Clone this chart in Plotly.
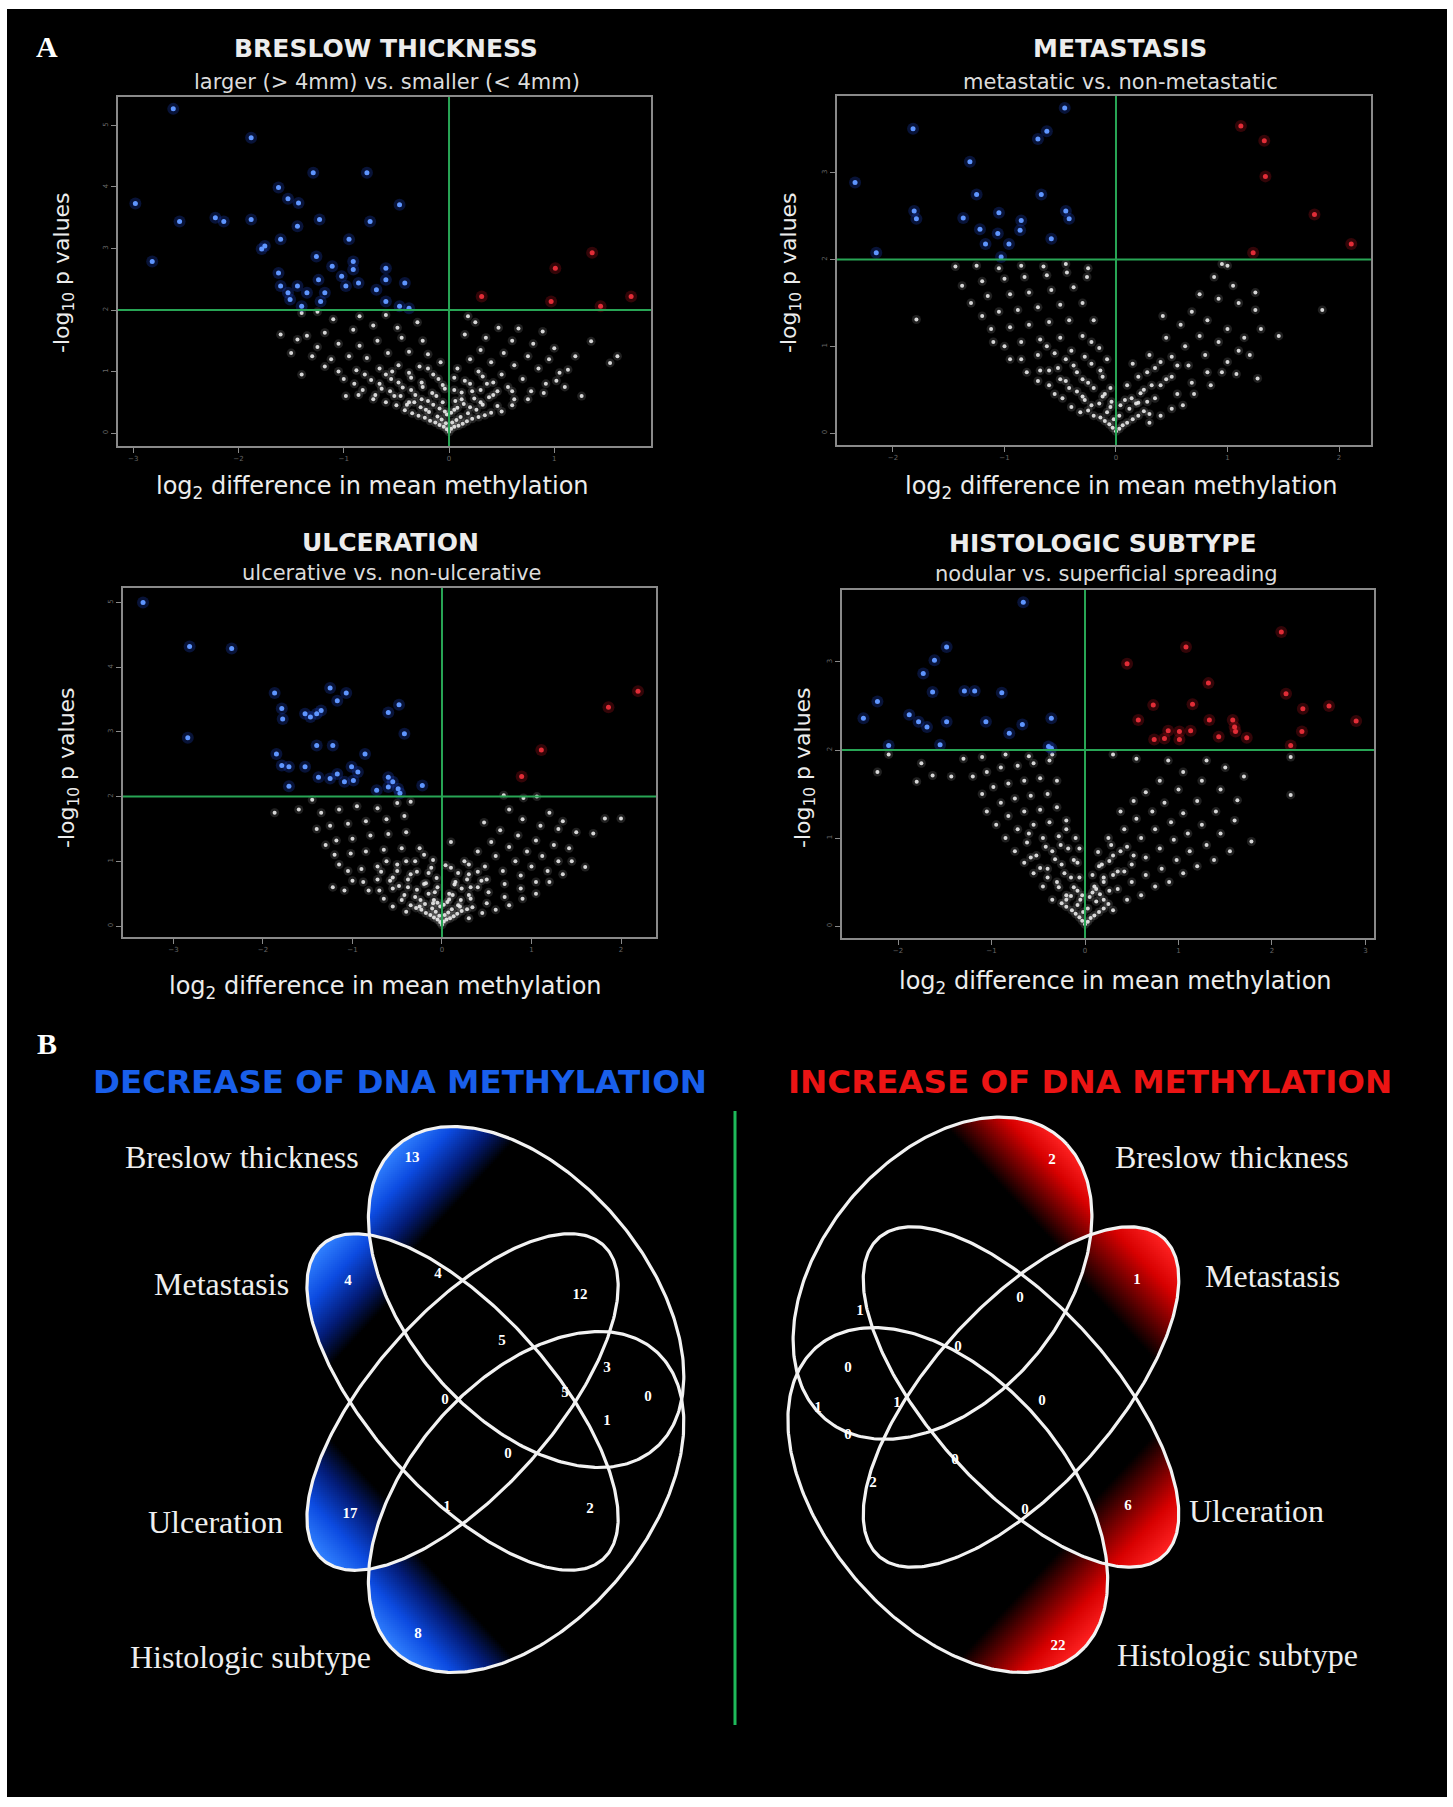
import numpy as np
import plotly.graph_objects as go

W, H = 1453, 1807

# ======================= DATA =======================
PANEL_TITLES = ["BRESLOW THICKNESS", "METASTASIS", "ULCERATION", "HISTOLOGIC SUBTYPE"]
PANEL_SUBTITLES = ["larger (> 4mm) vs. smaller (< 4mm)", "metastatic vs. non-metastatic",
                   "ulcerative vs. non-ulcerative", "nodular vs. superficial spreading"]
X_TICKS = [[-3, -2, -1, 0, 1], [-2, -1, 0, 1, 2], [-3, -2, -1, 0, 1, 2], [-2, -1, 0, 1, 2, 3]]
Y_TICKS = [[0, 1, 2, 3, 4, 5], [0, 1, 2, 3], [0, 1, 2, 3, 4, 5], [0, 1, 2, 3]]
SIG_LINE = 2.0      # -log10 p threshold
DIFF_LINE = 0.0     # log2 difference = 0

# (log2 difference, -log10 p)
breslow_hypo = [(-2.62,5.27),(-2.98,3.73),(-2.82,2.79),(-2.56,3.44),(-2.22,3.50),(-2.14,3.44),(-1.88,4.80),
    (-1.88,3.47),(-1.62,3.99),(-1.53,3.81),(-1.43,3.74),(-1.44,3.36),(-1.60,3.15),(-1.75,3.04),(-1.78,2.99),
    (-1.62,2.60),(-1.60,2.39),(-1.53,2.28),(-1.51,2.17),(-1.40,2.06),(-1.44,2.39),(-1.29,4.23),(-1.23,3.47),
    (-1.26,2.87),(-1.24,2.49),(-1.22,2.14),(-1.35,2.28),(-1.11,2.71),(-1.02,2.55),(-0.95,3.15),(-0.91,2.79),
    (-0.91,2.66),(-0.98,2.39),(-0.86,2.44),(-0.78,4.23),(-0.75,3.44),(-0.60,2.68),(-0.60,2.49),(-0.69,2.33),
    (-0.60,2.14),(-0.47,3.71),(-0.42,2.44),(-0.47,2.06),(-0.38,2.03),(-1.18,2.28)]
breslow_hyper = [(1.36,2.93),(1.01,2.68),(0.97,2.14),(0.31,2.22),(1.73,2.22),(1.44,2.06)]
breslow_ns = [(0,0.02),(-0.02,0.06),(0.02,0.07),(-0.05,0.1),(0.05,0.1),(-0.09,0.13),(0.09,0.12),(-0.03,0.16),
    (0.03,0.17),(-0.13,0.17),(0.13,0.15),(-0.07,0.22),(0.07,0.21),(-0.18,0.2),(0.17,0.19),(-0.11,0.27),
    (0.11,0.26),(-0.23,0.25),(0.22,0.23),(-0.02,0.3),(0.02,0.33),(-0.29,0.28),(0.28,0.26),(-0.19,0.34),
    (0.18,0.32),(-0.35,0.32),(0.34,0.29),(-0.09,0.4),(0.08,0.41),(-0.27,0.42),(0.26,0.38),(-0.42,0.37),
    (0.4,0.33),(-0.15,0.46),(0.14,0.47),(-0.33,0.5),
    (-0.04,0.35),(0.05,0.38),(-0.22,0.38),(0.2,0.42),(-0.4,0.46),(0.32,0.46),(-0.06,0.5),(0.06,0.52),
    (-0.26,0.55),(0.24,0.56),(-0.46,0.6),(0.38,0.58),(-0.16,0.65),(0.12,0.66),(-0.36,0.7),(0.3,0.7),
    (-0.56,0.68),(0.46,0.68),(-0.04,0.72),(-0.26,0.82),(0.2,0.8),(-0.48,0.82),(0.42,0.82),(-0.66,0.8),
    (-0.1,0.88),(-0.38,0.98),(0.05,0.9),(-0.6,0.95),(0.32,0.92),(-0.2,1.05),(-0.8,0.95),(0.6,0.68),
    (-0.72,0.55),(-0.86,0.62),(-0.54,1.0),
    (-0.5,0.45),(-0.38,0.5),(-0.2,0.52),(-0.6,0.5),(-0.52,0.6),(-0.32,0.62),(-0.12,0.6),(-0.7,0.62),
    (-0.64,0.72),(-0.44,0.74),(-0.25,0.75),(-0.06,0.78),(-0.82,0.7),(-0.9,0.8),(-0.74,0.86),(-0.55,0.88),
    (-0.36,0.9),(-0.15,0.95),(-1.0,0.88),(-1.05,1.0),(-0.88,1.02),(-0.66,1.05),(-0.48,1.1),(-0.28,1.08),
    (-0.08,1.15),(-1.18,1.08),(-1.12,1.2),(-0.95,1.25),(-0.78,1.22),(-0.58,1.3),(-0.38,1.32),(-0.2,1.28),
    (-1.3,1.25),(-1.25,1.4),(-1.05,1.45),(-0.85,1.42),(-0.68,1.5),(-0.45,1.55),(-0.25,1.5),(-1.35,1.58),
    (-1.44,1.52),(-1.18,1.63),(-0.91,1.68),(-0.72,1.75),(-0.49,1.71),(-0.3,1.8),(-1.1,1.85),(-0.85,1.9),
    (-0.6,1.92),(-1.4,1.95),(-1.25,1.97),(-1.6,1.6),(-1.5,1.3),(-1.4,0.95),(-0.98,0.6),
    (0.5,0.35),(0.46,0.44),(0.3,0.5),(0.12,0.55),(0.6,0.45),(0.62,0.55),(0.42,0.62),(0.22,0.68),(0.05,0.7),
    (0.75,0.55),(0.78,0.68),(0.56,0.75),(0.36,0.8),(0.15,0.85),(0.9,0.65),(0.92,0.8),(0.7,0.88),(0.5,0.95),
    (0.28,1.0),(0.08,1.05),(1.02,0.85),(1.05,0.98),(0.85,1.05),(0.62,1.1),(0.4,1.15),(0.2,1.2),(1.13,1.03),
    (0.95,1.2),(0.75,1.25),(0.52,1.3),(0.3,1.35),(1.26,0.6),(1.2,1.25),(1.0,1.38),(0.8,1.45),(0.6,1.5),
    (0.35,1.55),(0.15,1.6),(1.35,1.49),(0.89,1.65),(0.47,1.71),(0.25,1.8),(1.53,1.14),(1.6,1.25),(1.1,0.75),
    (0.18,1.9),(0.66,1.7)]

metastasis_hypo = [(-0.46,3.75),(-1.82,3.51),(-0.62,3.48),(-0.70,3.39),(-1.31,3.13),(-2.34,2.89),(-1.25,2.75),
    (-0.67,2.75),(-1.81,2.56),(-1.79,2.47),(-1.37,2.48),(-1.05,2.54),(-0.85,2.45),(-0.45,2.56),(-0.42,2.47),
    (-1.22,2.35),(-1.06,2.30),(-0.86,2.34),(-0.58,2.24),(-1.17,2.18),(-0.96,2.18),(-2.15,2.08),(-1.03,2.03)]
metastasis_hyper = [(1.12,3.54),(1.33,3.37),(1.34,2.96),(1.78,2.52),(2.11,2.18),(1.23,2.08)]
metastasis_ns = [(0,0.02),(-0.03,0.06),(0.03,0.05),(-0.06,0.1),(0.06,0.09),(-0.1,0.14),(0.1,0.12),(-0.02,0.16),
    (0.03,0.2),(-0.14,0.18),(0.15,0.16),(-0.08,0.24),(0.2,0.2),(-0.2,0.2),(-0.05,0.3),(0.12,0.28),(-0.25,0.26),
    (0.25,0.25),(-0.15,0.34),(0.3,0.22),(-0.32,0.24),(0.08,0.38),
    (-0.04,0.36),(0.04,0.32),(-0.22,0.32),(0.18,0.34),(-0.12,0.42),(0.14,0.4),(-0.3,0.42),(0.28,0.36),
    (-0.05,0.52),(0.22,0.46),(-0.42,0.52),(0.1,0.55),(-0.25,0.58),(0.32,0.55),(-0.5,0.62),(0.45,0.62),
    (-0.14,0.72),(0.2,0.65),(-0.35,0.7),(0.28,0.7),(-0.6,0.72),(0.4,0.82),(-0.28,0.88),(0.3,0.9),
    (-0.08,0.85),(-0.45,0.85),(0.55,0.78),(-0.62,1.0),(0.15,0.8),(-0.22,1.05),
    (-0.4,0.3),(-0.28,0.38),(-0.1,0.45),(-0.48,0.4),(-0.35,0.48),(-0.2,0.52),(-0.55,0.45),(-0.6,0.55),
    (-0.45,0.6),(-0.3,0.62),(-0.12,0.65),(-0.7,0.6),(-0.68,0.72),(-0.52,0.75),(-0.38,0.78),(-0.22,0.8),
    (-0.8,0.7),(-0.85,0.85),(-0.7,0.9),(-0.55,0.92),(-0.4,0.95),(-0.15,0.98),(-0.95,0.85),(-1.0,1.0),
    (-0.85,1.05),(-0.68,1.08),(-0.5,1.1),(-0.3,1.12),(-1.1,1.05),(-1.12,1.2),(-0.95,1.22),(-0.78,1.25),
    (-0.6,1.28),(-0.42,1.3),(-0.2,1.3),(-1.2,1.35),(-1.05,1.4),(-0.88,1.42),(-0.7,1.45),(-0.5,1.48),
    (-0.3,1.5),(-1.3,1.5),(-1.15,1.58),(-0.95,1.6),(-0.78,1.62),(-0.58,1.65),(-0.38,1.68),(-1.38,1.7),
    (-1.2,1.75),(-1.0,1.78),(-0.82,1.8),(-0.62,1.82),(-0.44,1.85),(-0.26,1.8),(-1.44,1.92),(-1.25,1.93),
    (-1.05,1.9),(-0.85,1.93),(-0.65,1.92),(-0.45,1.95),(-0.25,1.9),(-1.79,1.31),
    (0.3,0.12),(0.4,0.2),(0.2,0.35),(0.5,0.28),(0.35,0.4),(0.6,0.32),(0.55,0.45),(0.4,0.55),(0.25,0.5),
    (0.7,0.45),(0.68,0.58),(0.5,0.65),(0.35,0.75),(0.85,0.55),(0.82,0.7),(0.65,0.78),(0.5,0.88),(0.95,0.7),
    (1.0,0.82),(0.8,0.9),(0.62,1.0),(0.45,1.1),(1.08,0.68),(1.1,0.95),(0.92,1.05),(0.75,1.12),(0.58,1.25),
    (1.2,0.9),(1.15,1.1),(1.0,1.2),(0.82,1.3),(0.68,1.4),(1.27,0.63),(1.25,1.42),(1.1,1.5),(0.92,1.55),
    (0.75,1.6),(1.25,1.62),(1.05,1.7),(0.88,1.8),(1.46,1.12),(1.85,1.42),(1.3,1.2),(0.42,1.35),(0.95,1.95),
    (1.0,1.93)]

ulceration_hypo = [(-3.34,5.00),(-2.82,4.32),(-2.35,4.29),(-2.84,2.91),(-1.87,3.60),(-1.79,3.36),(-1.78,3.20),
    (-1.53,3.28),(-1.47,3.23),(-1.40,3.28),(-1.35,3.33),(-1.25,3.68),(-1.17,3.48),(-1.07,3.60),(-0.60,3.30),
    (-0.48,3.42),(-0.42,2.97),(-1.85,2.66),(-1.40,2.79),(-1.22,2.79),(-0.86,2.66),(-1.79,2.48),(-1.71,2.46),
    (-1.53,2.46),(-1.38,2.30),(-1.25,2.28),(-1.17,2.35),(-1.01,2.46),(-0.94,2.38),(-1.09,2.23),(-0.99,2.25),
    (-0.60,2.30),(-0.55,2.23),(-0.60,2.15),(-0.49,2.12),(-1.71,2.16),(-0.22,2.17),(-0.47,2.05),(-0.73,2.10)]
ulceration_hyper = [(2.19,3.63),(1.86,3.38),(1.11,2.72),(0.89,2.31)]
ulceration_ns = [(0,0.02),(-0.02,0.06),(0.02,0.07),(-0.05,0.1),(0.05,0.1),(-0.09,0.13),(0.09,0.12),(-0.03,0.16),
    (0.03,0.17),(-0.13,0.17),(0.13,0.15),(-0.07,0.22),(0.07,0.21),(-0.18,0.2),(0.17,0.19),(-0.11,0.27),
    (0.11,0.26),(-0.23,0.25),(0.22,0.23),(-0.02,0.3),(0.02,0.33),(-0.29,0.28),(0.28,0.26),(-0.19,0.34),
    (0.18,0.32),(-0.35,0.32),(0.34,0.29),(-0.09,0.4),(0.08,0.41),
    (-0.05,0.36),(0.06,0.37),(-0.24,0.4),(0.21,0.4),(-0.42,0.48),(0.3,0.48),(-0.08,0.52),(0.08,0.5),
    (-0.28,0.56),(0.22,0.58),(-0.48,0.62),(0.4,0.6),(-0.18,0.66),(0.14,0.64),(-0.38,0.72),(0.28,0.72),
    (-0.58,0.7),(0.44,0.7),(-0.06,0.74),(-0.28,0.84),(0.18,0.82),(-0.5,0.85),(0.4,0.84),(-0.68,0.84),
    (-0.12,0.9),(-0.4,1.0),(0.04,0.94),(-0.62,1.0),(0.3,0.95),(-0.2,1.1),
    (-0.4,0.22),(-0.25,0.3),(-0.1,0.35),(-0.55,0.3),(-0.45,0.4),(-0.3,0.45),(-0.15,0.5),(-0.65,0.42),
    (-0.7,0.55),(-0.55,0.58),(-0.38,0.6),(-0.2,0.65),(-0.05,0.6),(-0.82,0.55),(-0.88,0.68),(-0.72,0.72),
    (-0.55,0.75),(-0.35,0.8),(-0.15,0.82),(-1.0,0.7),(-1.05,0.85),(-0.9,0.88),(-0.72,0.92),(-0.5,0.95),
    (-0.3,1.0),(-0.1,1.02),(-1.15,0.95),(-1.2,1.1),(-1.02,1.12),(-0.85,1.15),(-0.65,1.18),(-0.45,1.2),
    (-0.25,1.2),(-1.3,1.25),(-1.18,1.32),(-1.0,1.35),(-0.8,1.4),(-0.6,1.42),(-0.4,1.45),(-1.4,1.5),
    (-1.25,1.55),(-1.05,1.58),(-0.85,1.62),(-0.62,1.65),(-0.42,1.7),(-1.35,1.75),(-1.15,1.8),(-0.95,1.85),
    (-0.72,1.82),(-0.5,1.9),(-1.45,1.95),(-0.35,1.92),(-1.87,1.75),(-1.6,1.8),(-1.22,0.6),(-1.09,0.55),
    (0.3,0.12),(0.45,0.2),(0.2,0.3),(0.6,0.25),(0.5,0.35),(0.32,0.42),(0.12,0.48),(0.75,0.32),(0.7,0.45),
    (0.52,0.52),(0.32,0.6),(0.15,0.68),(0.9,0.42),(0.88,0.58),(0.7,0.65),(0.5,0.72),(0.3,0.8),(0.1,0.9),
    (1.05,0.5),(1.05,0.68),(0.88,0.78),(0.68,0.85),(0.48,0.92),(0.25,1.0),(1.2,0.68),(1.18,0.85),(1.0,0.92),
    (0.82,1.0),(0.6,1.08),(0.4,1.15),(0.1,1.3),(1.35,0.8),(1.3,1.0),(1.12,1.08),(0.95,1.15),(0.75,1.22),
    (0.55,1.3),(1.45,1.0),(1.42,1.2),(1.25,1.25),(1.05,1.32),(0.85,1.4),(0.65,1.48),(0.47,1.6),(1.6,0.91),
    (1.69,1.43),(1.82,1.66),(2.0,1.66),(1.5,1.45),(1.3,1.5),(1.1,1.55),(0.9,1.65),(0.75,1.8),(1.2,1.75),
    (1.35,1.62),(0.69,2.02),(0.91,1.98),(1.06,2.0)]

histologic_hypo = [(-0.66,3.68),(-1.48,3.17),(-1.61,3.02),(-1.73,2.87),(-1.63,2.66),(-1.29,2.67),(-1.18,2.67),
    (-0.89,2.65),(-2.22,2.55),(-2.37,2.36),(-1.88,2.40),(-1.78,2.32),(-1.69,2.26),(-1.48,2.32),(-1.06,2.32),
    (-0.67,2.29),(-0.81,2.19),(-0.36,2.36),(-2.10,2.05),(-1.55,2.06),(-0.39,2.04),(-0.36,2.02)]
histologic_hyper = [(2.10,3.34),(1.08,3.17),(0.45,2.98),(1.32,2.76),(2.15,2.64),(0.73,2.51),(1.15,2.52),
    (2.33,2.47),(2.61,2.50),(0.57,2.34),(1.33,2.34),(1.58,2.34),(2.90,2.33),(0.89,2.22),(1.01,2.21),
    (1.13,2.22),(1.60,2.26),(1.61,2.21),(2.32,2.21),(0.74,2.12),(0.85,2.13),(1.01,2.12),(1.73,2.14),
    (1.43,2.15),(2.20,2.05)]
histologic_ns = [(0,0.02),(-0.03,0.06),(0.03,0.05),(-0.06,0.1),(0.06,0.09),(-0.1,0.14),(0.1,0.12),(-0.02,0.16),
    (0.03,0.2),(-0.14,0.18),(0.15,0.16),(-0.08,0.24),(0.2,0.2),(-0.2,0.22),(-0.05,0.3),(0.12,0.28),
    (-0.25,0.26),(0.25,0.25),(-0.15,0.34),(0.08,0.38),
    (-0.03,0.35),(0.05,0.33),(-0.2,0.3),(0.16,0.36),(-0.12,0.44),(0.12,0.42),(-0.28,0.44),(0.26,0.4),
    (-0.06,0.55),(0.2,0.5),(-0.4,0.55),(0.08,0.58),(-0.22,0.6),(0.3,0.58),(-0.48,0.66),(0.42,0.62),
    (-0.12,0.75),(0.18,0.7),(-0.32,0.76),(0.26,0.74),(-0.58,0.78),(0.38,0.85),(-0.26,0.92),(0.28,0.92),
    (-0.06,0.88),(-0.42,0.9),(0.52,0.8),(-0.6,1.05),(0.14,0.84),(-0.2,1.1),
    (-0.35,0.3),(-0.2,0.35),(-0.08,0.4),(-0.45,0.45),(-0.3,0.5),(-0.15,0.55),(-0.55,0.6),(-0.4,0.65),
    (-0.25,0.7),(-0.08,0.72),(-0.65,0.72),(-0.52,0.8),(-0.35,0.85),(-0.18,0.88),(-0.75,0.85),(-0.62,0.95),
    (-0.45,1.0),(-0.28,1.02),(-0.1,1.0),(-0.85,1.0),(-0.72,1.1),(-0.55,1.15),(-0.38,1.18),(-0.2,1.2),
    (-0.95,1.15),(-0.82,1.25),(-0.65,1.3),(-0.48,1.32),(-0.3,1.35),(-1.05,1.3),(-0.9,1.4),(-0.75,1.45),
    (-0.58,1.48),(-0.4,1.5),(-1.1,1.5),(-0.98,1.58),(-0.82,1.62),(-0.65,1.65),(-0.48,1.68),(-0.3,1.65),
    (-1.2,1.7),(-1.05,1.75),(-0.9,1.8),(-0.72,1.82),(-0.55,1.85),(-0.38,1.88),(-1.43,1.7),(-1.63,1.71),
    (-1.8,1.64),(-2.22,1.75),(-1.3,1.9),(-1.1,1.92),(-0.85,1.95),(-0.6,1.93),(-0.35,1.95),(-1.75,1.85),
    (-2.1,1.95),
    (0.3,0.18),(0.2,0.3),(0.1,0.45),(0.45,0.3),(0.35,0.42),(0.2,0.55),(0.6,0.35),(0.5,0.5),(0.35,0.62),
    (0.15,0.68),(0.75,0.45),(0.65,0.58),(0.5,0.7),(0.3,0.8),(0.9,0.5),(0.82,0.65),(0.65,0.78),(0.45,0.9),
    (0.25,1.0),(1.05,0.6),(0.98,0.75),(0.8,0.88),(0.6,1.0),(0.42,1.1),(1.2,0.68),(1.12,0.85),(0.95,0.98),
    (0.75,1.1),(0.55,1.22),(0.38,1.3),(1.38,0.75),(1.3,0.92),(1.1,1.05),(0.92,1.18),(0.72,1.3),(0.52,1.42),
    (1.55,0.85),(1.45,1.05),(1.25,1.15),(1.05,1.28),(0.85,1.4),(0.65,1.52),(1.78,0.96),(1.6,1.2),(1.4,1.3),
    (1.2,1.42),(1.0,1.55),(0.8,1.65),(1.63,1.43),(1.45,1.55),(1.25,1.65),(1.05,1.75),(0.89,1.88),(2.2,1.49),
    (2.2,1.92),(1.5,1.8),(1.3,1.88),(1.7,1.7),(0.55,1.9),(0.3,1.95)]

VENN_SETS = ["Breslow thickness", "Metastasis", "Ulceration", "Histologic subtype"]
decrease_counts = [13, 4, 17, 8, 4, 12, 5, 0, 5, 3, 1, 0, 0, 1, 2]
increase_counts = [2, 1, 6, 22, 1, 0, 0, 0, 1, 1, 0, 0, 2, 0, 0]

# ======================= LAYOUT (pixel positions) =======================
FRAMES = [(118, 651, 97, 446), (837, 1371, 96, 445), (123, 656, 588, 937), (842, 1374, 590, 938)]
X_RANGES = [(-3.145, 1.919), (-2.502, 2.287), (-3.564, 2.391), (-2.599, 3.091)]
Y_RANGES = [(-0.211, 5.463), (-0.138, 3.887), (-0.170, 5.224), (-0.136, 3.818)]
TITLE_POS = [(386, 48), (1120, 49), (390, 542), (1103, 543)]
SUB_POS = [(387, 82), (1120, 82), (392, 573), (1106, 574)]
XLAB_POS = [(372, 488), (1121, 488), (385, 987), (1115, 982)]
YLAB_POS = [(63, 272), (790, 272), (68, 768), (804, 768)]

LEFT_COUNT_POS = [(412,1158),(348,1281),(350,1514),(418,1634),(438,1274),(580,1295),(502,1341),(445,1400),
                  (565,1393),(607,1368),(607,1421),(648,1397),(508,1454),(447,1507),(590,1509)]
RIGHT_COUNT_POS = [(1052,1160),(1137,1280),(1128,1506),(1058,1646),(860,1311),(1020,1298),(958,1347),
                   (848,1368),(818,1408),(897,1403),(1042,1401),(848,1435),(873,1483),(955,1460),(1025,1510)]
LEFT_LABEL_POS = [(242, 1157), (221, 1284), (216, 1522), (250, 1657)]
RIGHT_LABEL_POS = [(1232, 1157), (1272, 1276), (1256, 1511), (1237, 1655)]

S2 = np.sqrt(0.5)
# unit-square 4-ellipse layouts: (cx, cy, a, b, ux, uy); order: Histologic, Ulceration, Metastasis, Breslow
LEFT_VENN = dict(xc=503, yc=1402, kx=578, ky=625, mirror=False,
                 ell=[(0.34, 0.46, 0.33, 0.20, -S2, S2), (0.50, 0.57, 0.35, 0.15, -S2, S2),
                      (0.50, 0.57, 0.35, 0.15, S2, S2), (0.668, 0.46, 0.33, 0.20, S2, S2)])
RIGHT_VENN = dict(xc=980, yc=1397, kx=586, ky=632, mirror=True,
                  ell=[(0.337, 0.445, 0.33, 0.20, -S2, S2), (0.50, 0.57, 0.35, 0.15, -S2, S2),
                       (0.50, 0.57, 0.35, 0.15, S2, S2), (0.688, 0.436, 0.30, 0.20, S2, S2)])

GREEN = "rgb(40,165,85)"
FRAME = "#8a8a8a"
TXT = "#ececec"
SANS = "DejaVu Sans"
SERIF = "Liberation Serif"

fig = go.Figure()

# ======================= PANEL A: volcano plots =======================
panels = [(breslow_ns, breslow_hypo, breslow_hyper), (metastasis_ns, metastasis_hypo, metastasis_hyper),
          (ulceration_ns, ulceration_hypo, ulceration_hyper), (histologic_ns, histologic_hypo, histologic_hyper)]
shapes = [dict(type="rect", xref="paper", yref="paper", x0=7 / W, x1=1447 / W, y0=1 - 1797 / H, y1=1 - 9 / H,
               fillcolor="black", line=dict(width=0), layer="below")]

for i, (ns, hypo, hyper) in enumerate(panels):
    xa = "x" if i == 0 else f"x{i+1}"
    ya = "y" if i == 0 else f"y{i+1}"
    nx, ny = zip(*ns)
    bx, by = zip(*hypo)
    rx, ry = zip(*hyper)
    fig.add_trace(go.Scatter(x=nx, y=ny, mode="markers", xaxis=xa, yaxis=ya, showlegend=False,
                             marker=dict(size=9, color="rgba(200,200,200,0.16)", line=dict(width=0))))
    fig.add_trace(go.Scatter(x=nx, y=ny, mode="markers", xaxis=xa, yaxis=ya, showlegend=False,
                             marker=dict(size=4, color="rgba(235,235,235,0.9)", line=dict(width=0))))
    fig.add_trace(go.Scatter(x=bx, y=by, mode="markers", xaxis=xa, yaxis=ya, showlegend=False,
                             marker=dict(size=12, color="rgba(30,70,200,0.28)", line=dict(width=0))))
    fig.add_trace(go.Scatter(x=bx, y=by, mode="markers", xaxis=xa, yaxis=ya, showlegend=False,
                             marker=dict(size=5, color="rgb(95,150,255)", line=dict(width=0))))
    fig.add_trace(go.Scatter(x=rx, y=ry, mode="markers", xaxis=xa, yaxis=ya, showlegend=False,
                             marker=dict(size=12, color="rgba(170,15,25,0.3)", line=dict(width=0))))
    fig.add_trace(go.Scatter(x=rx, y=ry, mode="markers", xaxis=xa, yaxis=ya, showlegend=False,
                             marker=dict(size=5, color="rgb(225,45,55)", line=dict(width=0))))
    shapes.append(dict(type="line", xref=xa, yref=f"{ya} domain", x0=DIFF_LINE, x1=DIFF_LINE, y0=0, y1=1,
                       line=dict(color=GREEN, width=2)))
    shapes.append(dict(type="line", xref=f"{xa} domain", yref=ya, x0=0, x1=1, y0=SIG_LINE, y1=SIG_LINE,
                       line=dict(color=GREEN, width=2)))

common_ax = dict(showgrid=False, zeroline=False, showline=True, mirror=True, linecolor=FRAME, linewidth=1.5,
                 ticks="outside", ticklen=5, tickwidth=1, tickcolor=FRAME,
                 tickfont=dict(size=7, color="#666666", family=SANS), fixedrange=True)
layout_axes = {}
for i in range(4):
    L, R, T, B = FRAMES[i]
    xk = "xaxis" if i == 0 else f"xaxis{i+1}"
    yk = "yaxis" if i == 0 else f"yaxis{i+1}"
    xa = "x" if i == 0 else f"x{i+1}"
    ya = "y" if i == 0 else f"y{i+1}"
    layout_axes[xk] = dict(domain=[L / W, R / W], range=list(X_RANGES[i]), anchor=ya,
                           tickvals=X_TICKS[i], **common_ax)
    layout_axes[yk] = dict(domain=[1 - B / H, 1 - T / H], range=list(Y_RANGES[i]), anchor=xa,
                           tickvals=Y_TICKS[i], tickangle=-90, **common_ax)

# ======================= PANEL B: Venn diagrams =======================
def to_img(sx, sy, P):
    X = P["xc"] + P["kx"] * (sy - 0.5) if P["mirror"] else P["xc"] - P["kx"] * (sy - 0.5)
    Y = P["yc"] - P["ky"] * (sx - 0.5)
    return X, Y


def to_std(X, Y, P):
    sy = 0.5 + (X - P["xc"]) / P["kx"] if P["mirror"] else 0.5 - (X - P["xc"]) / P["kx"]
    sx = 0.5 - (Y - P["yc"]) / P["ky"]
    return sx, sy


def venn_gradient(P, x0, x1, y0, y1, step=2, t0=0.58, gamma=1.0):
    X = np.arange(x0, x1, step) + step / 2
    Y = np.arange(y0, y1, step) + step / 2
    XX, YY = np.meshgrid(X, Y)
    SX, SY = to_std(XX, YY, P)
    ins, tv = [], []
    for (cx, cy, a, b, ux, uy) in P["ell"]:
        dx, dy = SX - cx, SY - cy
        du = (dx * ux + dy * uy) / a
        dv = (-dx * uy + dy * ux) / b
        ins.append(du ** 2 + dv ** 2 <= 1.0)
        tv.append(du)
    ins = np.array(ins)
    cnt = ins.sum(axis=0)
    Z = np.full(XX.shape, np.nan)
    for k in range(4):
        m = ins[k] & (cnt == 1)
        v = np.clip((tv[k] - t0) / (1 - t0), 0, 1) ** gamma
        Z[m] = v[m]
    return X, Y, Z


blue_cs = [[0, "rgb(0,0,0)"], [0.3, "rgb(3,28,120)"], [0.65, "rgb(12,75,225)"], [1, "rgb(50,130,255)"]]
red_cs = [[0, "rgb(0,0,0)"], [0.3, "rgb(100,0,0)"], [0.65, "rgb(215,0,0)"], [1, "rgb(255,35,35)"]]

for P, box, cs in [(LEFT_VENN, (295, 705, 1108, 1690), blue_cs), (RIGHT_VENN, (770, 1200, 1100, 1690), red_cs)]:
    gx, gy, gz = venn_gradient(P, *box)
    fig.add_trace(go.Heatmap(x=gx, y=gy, z=gz, colorscale=cs, zmin=0, zmax=1, showscale=False,
                             xaxis="x5", yaxis="y5", hoverinfo="skip", zsmooth=False))
    th = np.linspace(0, 2 * np.pi, 361)
    for (cx, cy, a, b, ux, uy) in P["ell"]:
        sx = cx + a * np.cos(th) * ux - b * np.sin(th) * uy
        sy = cy + a * np.cos(th) * uy + b * np.sin(th) * ux
        X, Y = to_img(sx, sy, P)
        fig.add_trace(go.Scatter(x=X, y=Y, mode="lines", xaxis="x5", yaxis="y5", showlegend=False,
                                 line=dict(color="rgb(242,242,242)", width=3.2), hoverinfo="skip"))

for counts, pos in [(decrease_counts, LEFT_COUNT_POS), (increase_counts, RIGHT_COUNT_POS)]:
    px_, py_ = zip(*pos)
    fig.add_trace(go.Scatter(x=px_, y=py_, mode="text", text=[str(c) for c in counts], xaxis="x5", yaxis="y5",
                             showlegend=False, hoverinfo="skip",
                             textfont=dict(family=SERIF, size=15, color="white", weight="bold")))

# divider
fig.add_trace(go.Scatter(x=[735, 735], y=[1111, 1725], mode="lines", xaxis="x5", yaxis="y5", showlegend=False,
                         line=dict(color="rgb(30,185,90)", width=3), hoverinfo="skip"))

layout_axes["xaxis5"] = dict(domain=[0, 1], range=[0, W], visible=False, anchor="y5", fixedrange=True)
layout_axes["yaxis5"] = dict(domain=[0, 1], range=[H, 0], visible=False, anchor="x5", fixedrange=True)

# ======================= TEXT =======================
annots = []


def ann(text, x, y, size, color, family, angle=0):
    annots.append(dict(text=text, x=x / W, y=1 - y / H, xref="paper", yref="paper", showarrow=False,
                       xanchor="center", yanchor="middle", textangle=angle,
                       font=dict(size=size, color=color, family=family)))


ann("<b>A</b>", 47, 46, 30, "white", SERIF)
ann("<b>B</b>", 47, 1043, 30, "white", SERIF)
for i in range(4):
    ann(f"<b>{PANEL_TITLES[i]}</b>", *TITLE_POS[i], 25, TXT, SANS)
    ann(PANEL_SUBTITLES[i], *SUB_POS[i], 21, "#dcdcdc", SANS)
    ann("log<sub>2</sub> difference in mean methylation", *XLAB_POS[i], 24, TXT, SANS)
    ann("-log<sub>10</sub> p values", *YLAB_POS[i], 22, TXT, SANS, angle=-90)

ann("<b>DECREASE OF DNA METHYLATION</b>", 400, 1082, 32.5, "rgb(25,95,235)", SANS)
ann("<b>INCREASE OF DNA METHYLATION</b>", 1090, 1082, 32.5, "rgb(235,20,20)", SANS)
for name, p in zip(VENN_SETS, LEFT_LABEL_POS):
    ann(name, *p, 32, "#eeeeee", SERIF)
for name, p in zip(VENN_SETS, RIGHT_LABEL_POS):
    ann(name, *p, 32, "#eeeeee", SERIF)

fig.update_layout(width=W, height=H, margin=dict(l=0, r=0, t=0, b=0, pad=0),
                  paper_bgcolor="white", plot_bgcolor="rgba(0,0,0,0)", showlegend=False,
                  hovermode=False, shapes=shapes, annotations=annots, **layout_axes)

fig.write_html("out.html", config={"displayModeBar": False, "staticPlot": False},
               post_script="document.body.style.margin='0px';document.body.style.overflow='hidden';")
